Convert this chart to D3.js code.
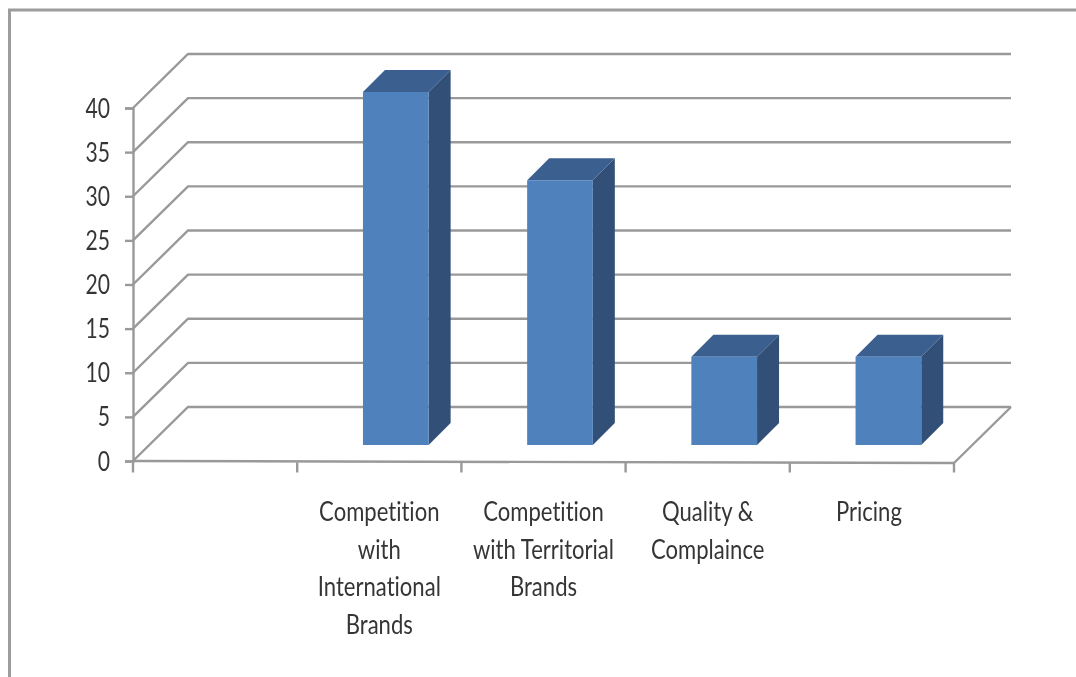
<!DOCTYPE html>
<html><head><meta charset="utf-8">
<script src="https://cdn.jsdelivr.net/npm/d3@7/dist/d3.min.js"></script>
<style>html,body{margin:0;padding:0;background:#fff}svg{display:block}
text{font-family:Lato,"Open Sans",sans-serif;fill:#363636;font-variant-ligatures:none}</style>
</head><body><svg id="c" width="1076" height="677"></svg>
<script>
const categories = ["", "Competition with International Brands", "Competition with Territorial Brands", "Quality & Complaince", "Pricing"];
const categoryLines = [[], ["Competition","with","International","Brands"], ["Competition","with Territorial","Brands"], ["Quality &","Complaince"], ["Pricing"]];
const values = [null, 40, 30, 10, 10];
const valueTicks = [0,5,10,15,20,25,30,35,40];

const svg = d3.select("#c");
const defs = svg.append("defs");
defs.append("filter").attr("id","soft").append("feGaussianBlur").attr("stdDeviation",0.7);
const root = svg.append("g").attr("filter","url(#soft)");

const m = {left:133, right:954, floor:461, top:108, backX:55, backY:54};
const x = d3.scaleBand().domain(categories).range([m.left,m.right]);
const y = d3.scaleLinear().domain([0,40]).range([m.floor,m.top]);
const grey = "#999999";

// outer frame
root.append("path").attr("d","M9.5,677V10H1076").attr("fill","none").attr("stroke","#9c9c9c").attr("stroke-width",3);

// walls and gridlines
const grid = root.append("g").attr("fill","none").attr("stroke",grey).attr("stroke-width",2.4);
grid.selectAll("path").data(valueTicks).join("path")
  .attr("d",v=>{const p=y(v);return `M${m.left},${p}L${m.left+m.backX},${p-m.backY}H${m.right+m.backX+2}`;});
grid.append("path").attr("d",`M${m.right},${m.floor+2}L${m.right+m.backX+2},${m.floor-m.backY}`);

// axes
const yAxis = root.append("g").attr("transform",`translate(${m.left},0)`).call(d3.axisLeft(y).tickValues(valueTicks).tickSize(8).tickPadding(6));
yAxis.select(".domain").attr("stroke",grey).attr("stroke-width",2.4);
yAxis.selectAll("line").attr("stroke",grey).attr("stroke-width",2.4);
yAxis.selectAll("text").remove();
yAxis.selectAll(".tick").append("text")
  .attr("text-anchor","end").attr("font-size",24)
  .attr("transform","translate(-23,9) scale(0.88,1.1)")
  .text(d=>d);

const xAxis = root.append("g").attr("transform",`translate(0,${m.floor+1.5})`);
const edges = categories.map(c=>x(c)).concat(m.right);
xAxis.append("path").attr("d",`M${m.left},-1.5L${m.right},0.5`).attr("stroke",grey).attr("stroke-width",2.4);
xAxis.selectAll("line").data(edges).join("line")
  .attr("x1",d=>d).attr("x2",d=>d).attr("y1",0).attr("y2",10)
  .attr("stroke",grey).attr("stroke-width",2.4);

// bars
const barW = x.bandwidth()*0.4, depth = 22, base = 16, shift = 16.5;
const bars = root.selectAll("g.bar").data(categories.map((c,i)=>({c,v:values[i]})).filter(d=>d.v!=null)).join("g").attr("class","bar");
const yb = v => y(v)-base;
const xl = d => x(d.c)+x.bandwidth()/2+shift-barW/2;
bars.append("path").attr("fill","#3b6090")
  .attr("d",d=>{const l=xl(d),t=yb(d.v);return `M${l},${t}l${depth},${-depth}h${barW}l${-depth},${depth}z`;});
bars.append("path").attr("fill","#315078")
  .attr("d",d=>{const r=xl(d)+barW,t=yb(d.v),b=yb(0);return `M${r},${t}l${depth},${-depth}V${b-depth}L${r},${b}z`;});
bars.append("rect").attr("fill","#4f81bd")
  .attr("x",xl).attr("y",d=>yb(d.v)).attr("width",barW).attr("height",d=>yb(0)-yb(d.v));

// category labels
const lab = root.selectAll("g.lab").data(categoryLines).join("g").attr("class","lab");
lab.each(function(lines,i){
  const cx = x(categories[i])+x.bandwidth()/2 - (i===4?3:0);
  d3.select(this).selectAll("text").data(lines).join("text")
    .attr("text-anchor","middle").attr("font-size",24)
    .attr("transform",(l,j)=>`translate(${cx},${521+j*37.7}) scale(0.92,1.1)`)
    .text(l=>l);
});
</script></body></html>
